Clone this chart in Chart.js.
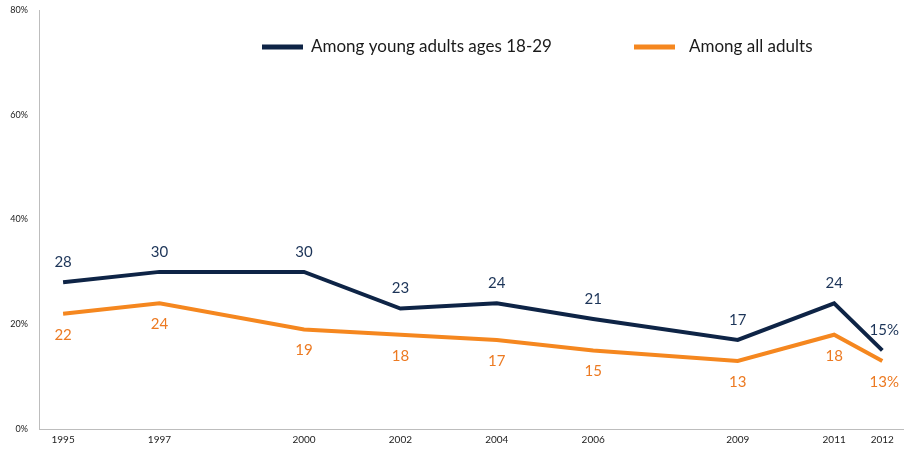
<!DOCTYPE html>
<html>
<head>
<meta charset="utf-8">
<script src="https://cdn.jsdelivr.net/npm/chart.js@4/dist/chart.umd.min.js"></script>
<style>
  html, body { margin: 0; padding: 0; background: #fff; }
  #wrap { width: 904px; height: 452px; }
</style>
</head>
<body>
<div id="wrap"><canvas id="chart" width="904" height="452"></canvas></div>
<script>
// --- dados ---
const years = [1995, 1997, 2000, 2002, 2004, 2006, 2009, 2011, 2012];
const youngAdults = [28, 30, 30, 23, 24, 21, 17, 24, 15];
const allAdults = [22, 24, 19, 18, 17, 15, 13, 18, 13];
const yTicks = [0, 20, 40, 60, 80];

const NAVY = '#0e2446';
const ORANGE = '#f5871f';
const FONT = 'Lato, "Open Sans", sans-serif';

// rótulos de valor em cima/baixo de cada ponto
const valueLabels = {
    id: 'valueLabels',
    afterDatasetsDraw(chart) {
        const ctx = chart.ctx;
        ctx.save();
        ctx.font = '15px ' + FONT;
        ctx.textAlign = 'center';
        ctx.textBaseline = 'middle';
        chart.data.datasets.forEach((ds, i) => {
            const meta = chart.getDatasetMeta(i);
            const above = i === 0;
            ctx.fillStyle = ds.labelColor;
            meta.data.forEach((pt, j) => {
                const last = j === meta.data.length - 1;
                const txt = ds.data[j].y + (last ? '%' : '');
                const y = above ? pt.y - 20 : pt.y + 21;
                ctx.fillText(txt, pt.x + (last ? 2 : 0), y);
            });
        });
        ctx.restore();
    }
};

// legenda desenhada dentro da área do gráfico
const insideLegend = {
    id: 'insideLegend',
    afterDraw(chart) {
        const ctx = chart.ctx;
        const slots = [262, 634];
        ctx.save();
        ctx.font = '17px ' + FONT;
        ctx.textBaseline = 'middle';
        ctx.textAlign = 'left';
        chart.data.datasets.forEach((ds, i) => {
            const x = slots[i];
            const y = 47;
            ctx.strokeStyle = ds.borderColor;
            ctx.lineWidth = 5;
            ctx.beginPath();
            ctx.moveTo(x, y);
            ctx.lineTo(x + 41, y);
            ctx.stroke();
            ctx.fillStyle = '#1a1a1a';
            ctx.fillText(ds.label, x + 49 + (i === 1 ? 6 : 0), y);
        });
        ctx.restore();
    }
};

const toPoints = arr => arr.map((v, i) => ({ x: years[i], y: v }));

new Chart(document.getElementById('chart').getContext('2d'), {
    type: 'line',
    data: {
        datasets: [
            {
                label: 'Among young adults ages 18-29',
                data: toPoints(youngAdults),
                borderColor: NAVY,
                labelColor: '#1c3458',
                borderWidth: 4,
                pointRadius: 0,
                tension: 0
            },
            {
                label: 'Among all adults',
                data: toPoints(allAdults),
                borderColor: ORANGE,
                labelColor: '#ec7a22',
                borderWidth: 4,
                pointRadius: 0,
                tension: 0
            }
        ]
    },
    options: {
        responsive: false,
        animation: false,
        layout: { padding: { top: 10, right: 0, bottom: 0, left: 0 } },
        plugins: {
            legend: { display: false },
            tooltip: { enabled: false }
        },
        scales: {
            x: {
                type: 'linear',
                min: 1994.5,
                max: 2012.45,
                afterBuildTicks: scale => { scale.ticks = years.map(v => ({ value: v })); },
                afterFit: scale => { scale.height = 23; scale.paddingTop = 0; },
                grid: { display: false, drawTicks: false },
                border: { display: true, color: '#bdbdbd', width: 1 },
                ticks: {
                    autoSkip: false,
                    maxRotation: 0,
                    padding: 5,
                    color: '#222',
                    font: { family: FONT, size: 10 },
                    callback: v => String(v)
                }
            },
            y: {
                min: 0,
                max: 80,
                afterBuildTicks: scale => { scale.ticks = yTicks.map(v => ({ value: v })); },
                afterFit: scale => { scale.width = 39; scale.paddingTop = 0; scale.paddingBottom = 0; },
                grid: { display: false, drawTicks: false },
                border: { display: true, color: '#bdbdbd', width: 1 },
                ticks: {
                    padding: 11,
                    color: '#222',
                    font: { family: FONT, size: 9 },
                    callback: v => v + '%'
                }
            }
        }
    },
    plugins: [valueLabels, insideLegend]
});
</script>
</body>
</html>
